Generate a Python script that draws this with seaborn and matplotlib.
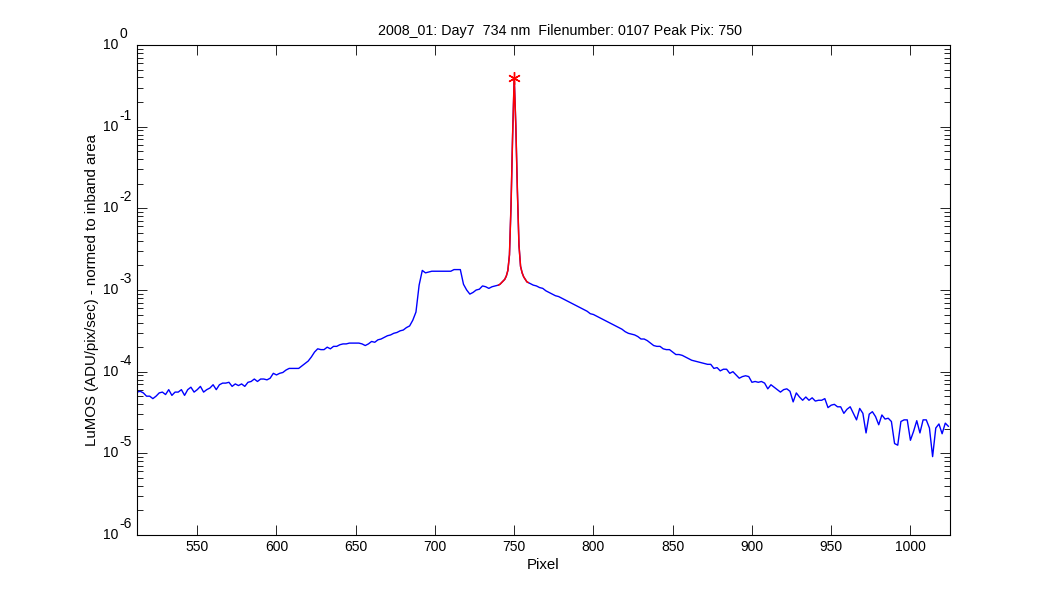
import numpy as np
import pandas as pd
import matplotlib
matplotlib.use("Agg")
import matplotlib.pyplot as plt
import matplotlib.ticker as mticker
import matplotlib.transforms as mtransforms
import seaborn as sns

# pixel positions of the samples (every 2nd pixel, every pixel round the peak)
left_pix = np.arange(512, 740, 2)
peak_pix = np.arange(740, 760)
right_pix = np.arange(760, 1025, 2)

# log10 of the normed signal
left_log = [
    -4.25, -4.24, -4.26, -4.30, -4.30, -4.33, -4.30, -4.26, -4.25, -4.28,
    -4.22, -4.29, -4.25, -4.25, -4.22, -4.29, -4.22, -4.19, -4.25, -4.22,
    -4.18, -4.25, -4.22, -4.20, -4.16, -4.22, -4.16, -4.14, -4.14, -4.13,
    -4.18, -4.15, -4.17, -4.15, -4.18, -4.13, -4.12, -4.09, -4.12, -4.09,
    -4.09, -4.10, -4.08, -4.02, -4.04, -4.02, -4.01, -3.98, -3.96, -3.96,
    -3.96, -3.96, -3.93, -3.90, -3.87, -3.82, -3.76, -3.72, -3.73, -3.73,
    -3.70, -3.72, -3.69, -3.69,
    -3.67, -3.66, -3.66, -3.65, -3.65, -3.65, -3.65, -3.66, -3.68, -3.66,
    -3.63, -3.64, -3.61, -3.60, -3.58, -3.56, -3.55, -3.53, -3.52, -3.50,
    -3.49, -3.46, -3.44, -3.37, -3.27, -2.94, -2.76, -2.79, -2.78, -2.77,
    -2.77, -2.77, -2.77, -2.77, -2.77, -2.77, -2.75, -2.75, -2.75, -2.93,
    -3.00, -3.05, -3.03, -3.00, -2.99, -2.95, -2.96, -2.98, -2.96, -2.95,
]
peak_log = [
    -2.94, -2.93, -2.91, -2.89, -2.87, -2.83, -2.76, -2.57, -1.96, -1.10,
    -0.40, -0.98, -1.78, -2.45, -2.71, -2.79, -2.84, -2.87, -2.90, -2.91,
]
right_log = [
    -2.92, -2.94, -2.95, -2.97, -2.98, -3.01, -3.03, -3.05, -3.07, -3.08,
    -3.10, -3.12, -3.14, -3.16, -3.18, -3.20, -3.22, -3.24, -3.26, -3.29,
    -3.30, -3.32, -3.34, -3.36, -3.38, -3.40, -3.42, -3.44, -3.46, -3.48,
    -3.51, -3.53, -3.54, -3.55, -3.57, -3.60, -3.60, -3.62, -3.65, -3.68,
    -3.69, -3.69, -3.72, -3.73, -3.73, -3.76, -3.79, -3.79, -3.80, -3.82,
    -3.84, -3.86, -3.87, -3.88, -3.89, -3.90, -3.91,
    -3.91, -3.96, -3.95, -3.99, -3.97, -3.97, -4.02, -4.00, -4.04, -4.08,
    -4.06, -4.05, -4.06, -4.13, -4.12, -4.13, -4.12, -4.14, -4.21, -4.16,
    -4.19, -4.22, -4.25, -4.22, -4.21, -4.24, -4.37, -4.26, -4.31, -4.35,
    -4.31, -4.35, -4.32, -4.36, -4.35, -4.35, -4.33, -4.44, -4.41, -4.40,
    -4.43,
    -4.43, -4.51, -4.46, -4.43, -4.51, -4.59, -4.45, -4.51, -4.75, -4.52,
    -4.49, -4.55, -4.65, -4.53, -4.58, -4.57, -4.61, -4.88, -4.90, -4.61,
    -4.59, -4.59, -4.84, -4.73, -4.60, -4.75, -4.59, -4.59, -4.69, -5.04,
    -4.69, -4.64, -4.76, -4.63, -4.67,
]

peak_pixel = 750
decades = [0, -1, -2, -3, -4, -5, -6]
x_ticks = [550, 600, 650, 700, 750, 800, 850, 900, 950, 1000]

title = "2008_01: Day7  734 nm  Filenumber: 0107 Peak Pix: 750"

sns.set_style("ticks")
plt.rcParams["font.family"] = ["Liberation Sans", "DejaVu Sans"]
plt.rcParams["text.color"] = "black"
plt.rcParams["axes.labelcolor"] = "black"

df = pd.DataFrame({
    "pixel": np.concatenate([left_pix, peak_pix, right_pix]),
    "signal": 10 ** np.array(left_log + peak_log + right_log),
})
df_peak = pd.DataFrame({"pixel": peak_pix, "signal": 10 ** np.array(peak_log)})

fig = plt.figure(figsize=(10.5, 6), dpi=100)
ax = fig.add_axes([0.1305, 0.1083, 0.7743, 0.8167])

sns.lineplot(data=df, x="pixel", y="signal", color="blue", lw=1,
             estimator=None, sort=False, ax=ax)
sns.lineplot(data=df_peak, x="pixel", y="signal", color="red", lw=1.1,
             estimator=None, sort=False, ax=ax)
peak_val = df_peak.loc[df_peak["pixel"] == peak_pixel, "signal"].iloc[0]
ax.plot([peak_pixel], [peak_val], linestyle="none", marker=(6, 2, 0),
        markersize=9, color="red", markeredgewidth=1)

ax.set_yscale("log")
ax.set_xlim(512, 1025)
ax.set_ylim(1e-6, 1e0)

ax.set_xticks(x_ticks)
ax.set_yticks([10.0 ** d for d in decades])
ax.yaxis.set_minor_locator(mticker.LogLocator(base=10, subs=np.arange(2, 10), numticks=20))
ax.yaxis.set_minor_formatter(mticker.NullFormatter())
ax.set_yticklabels([])

# MATLAB style "10" with a raised exponent of the same size
trans = mtransforms.blended_transform_factory(ax.transAxes, ax.transData)
for d in decades:
    ax.annotate("10", xy=(0, 10.0 ** d), xycoords=trans, xytext=(-19, 0),
                textcoords="offset pixels", ha="right", va="center",
                fontsize=10, annotation_clip=False)
    ax.annotate(str(d), xy=(0, 10.0 ** d), xycoords=trans, xytext=(-18, 11),
                textcoords="offset pixels", ha="left", va="center",
                fontsize=10, annotation_clip=False)

ax.tick_params(which="both", direction="in", top=True, right=True,
               labelsize=10, width=0.6, colors="black")
ax.tick_params(which="major", length=7)
ax.tick_params(which="minor", length=4)
for s in ax.spines.values():
    s.set_visible(True)
    s.set_linewidth(0.8)
    s.set_color("black")

ax.set_title(title, fontsize=10.3, pad=7, x=0.52)
ax.set_xlabel("Pixel", fontsize=10.8, labelpad=3)
ax.set_ylabel("LuMOS (ADU/pix/sec) - normed to inband area", fontsize=10.8, labelpad=24)

fig.savefig("out.png", dpi=100)
